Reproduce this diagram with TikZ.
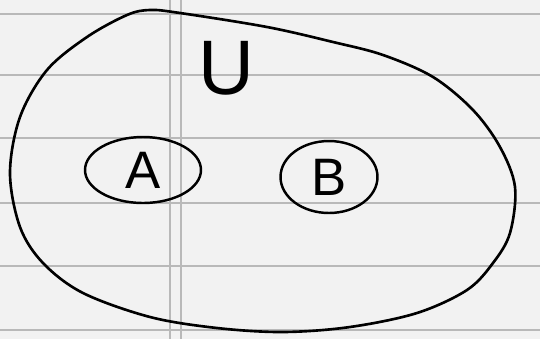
\documentclass[tikz,border=0pt]{standalone}
\usepackage{fontspec}
\setsansfont{Liberation Sans}
\usetikzlibrary{shapes.geometric}
\begin{document}
\begin{tikzpicture}[x=0.02cm,y=-0.02cm,every node/.style={ellipse,draw,line width=1.4pt,inner sep=0pt,font=\sffamily\fontsize{30}{30}\selectfont}]
            \fill[white!95!black] (0,0) rectangle (540,339);
            \useasboundingbox (0,0) rectangle (540,339);
            % ruled paper
            \foreach \y in {14,75,138,203,266,330}
                \draw[gray!55,line width=0.6pt] (0,\y) -- (540,\y);
            \draw[gray!55,line width=0.6pt] (170,0) -- (170,339);
            \draw[gray!55,line width=0.6pt] (181,0) -- (181,339);

            \draw[line width=1.5pt] plot[smooth cycle,tension=0.55] coordinates {
                (150,10) (180,13) (267,27) (333,42) (383,55) (433,77) (473,110)
                (500,147) (515,187) (510,233) (493,263) (467,290) (417,313)
                (350,327) (283,332) (217,328) (150,317) (83,293) (43,263)
                (20,227) (10,173) (20,117) (47,70) (87,37) (127,15)};

            \node[draw=none,font=\sffamily\fontsize{44}{44}\selectfont] (u) at (226,68) {U};
            \node[minimum width=2.32cm,minimum height=1.32cm] (a) at (143,170) {A};
            \node[minimum width=1.94cm,minimum height=1.44cm] (b) at (329,177) {B};
        \end{tikzpicture}
\end{document}
